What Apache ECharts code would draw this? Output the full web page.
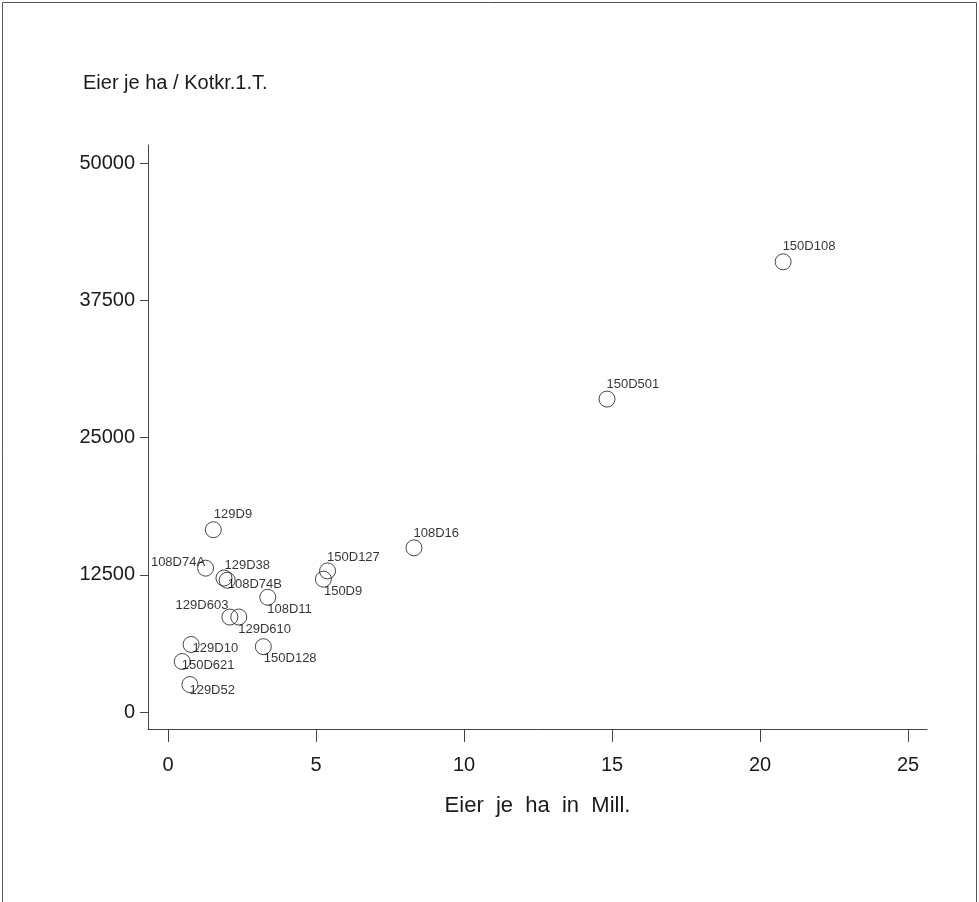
<!DOCTYPE html>
<html>
<head>
<meta charset="utf-8">
<script src="https://cdn.jsdelivr.net/npm/echarts@6/dist/echarts.min.js"></script>
<style>
html,body{margin:0;padding:0;background:#fff;}
#chart{width:979px;height:902px;}
</style>
</head>
<body>
<div id="chart"></div>
<script>
// ---- data ----
const pointNames = ['150D108','150D501','108D16','129D9','108D74A','129D38','108D74B','108D11','129D603','129D610','150D127','150D9','129D10','150D621','129D52','150D128'];
const eggsPerHaMill = [20.78, 14.83, 8.31, 1.53, 1.27, 1.89, 2.00, 3.37, 2.09, 2.39, 5.39, 5.25, 0.78, 0.48, 0.74, 3.22];
const eggsPerHaPerDung = [41000, 28500, 14950, 16600, 13100, 12200, 12000, 10450, 8650, 8650, 12850, 12100, 6150, 4600, 2500, 5950];
const xTicks = [0, 5, 10, 15, 20, 25];
const yTicks = [0, 12500, 25000, 37500, 50000];
const titleText = 'Eier je ha / Kotkr.1.T.';
const xAxisTitle = 'Eier  je  ha  in  Mill.';

// ---- label placement (style only): align, dx, dy from marker centre ----
const labelPlacement = {
  '150D108': ['left', 0, -15],
  '150D501': ['left', 0, -14],
  '108D16':  ['left', 0, -14],
  '129D9':   ['left', 1, -15],
  '108D74A': ['right', 0, -5],
  '129D38':  ['left', 1, -12],
  '108D74B': ['left', 1, 5],
  '108D11':  ['left', 0, 13],
  '129D603': ['right', -1, -11],
  '129D610': ['left', 0, 13],
  '150D127': ['left', 0, -13],
  '150D9':   ['left', 1, 13],
  '129D10':  ['left', 2, 4],
  '150D621': ['left', 0, 4],
  '129D52':  ['left', 0, 6],
  '150D128': ['left', 1, 12]
};

const ink = '#1a1a1a';
const font = '"Liberation Sans", Arial, Helvetica, sans-serif';
const markerSize = 16;

const seriesData = pointNames.map((n, i) => {
  const p = labelPlacement[n];
  return {
    name: n,
    value: [eggsPerHaMill[i], eggsPerHaPerDung[i]],
    label: { align: p[0], position: [markerSize / 2 + p[1], markerSize / 2 + p[2]] }
  };
});

const chart = echarts.init(document.getElementById('chart'), null, {renderer: 'canvas'});
chart.setOption({
  backgroundColor: '#fff',
  animation: false,
  title: {
    text: titleText,
    left: 78, top: 68,
    textStyle: { fontFamily: font, fontSize: 20, fontWeight: 'normal', color: ink }
  },
  graphic: [{
    type: 'rect', silent: true,
    shape: { x: 2.5, y: 2.5, width: 974, height: 910 },
    style: { fill: 'none', stroke: '#555', lineWidth: 1 }
  }],
  grid: { left: 148, right: 52, top: 145, bottom: 173 },
  xAxis: {
    type: 'value', min: -0.676, max: 25.64,
    axisLine: { show: true, onZero: false, lineStyle: { color: '#444', width: 1 } },
    axisTick: { show: true, customValues: xTicks, length: 13, lineStyle: { color: '#444' } },
    axisLabel: { show: true, customValues: xTicks, margin: 26, fontFamily: font, fontSize: 20, color: ink },
    splitLine: { show: false },
    name: xAxisTitle, nameLocation: 'middle', nameGap: 66,
    nameTextStyle: { fontFamily: font, fontSize: 22, color: ink }
  },
  yAxis: {
    type: 'value', min: -1548, max: 51639,
    axisLine: { show: true, onZero: false, lineStyle: { color: '#444', width: 1 } },
    axisTick: { show: true, customValues: yTicks, length: 8, lineStyle: { color: '#444' } },
    axisLabel: { show: true, customValues: yTicks, margin: 13, fontFamily: font, fontSize: 20, color: ink,
                 formatter: v => String(v) },
    splitLine: { show: false }
  },
  series: [{
    type: 'scatter',
    symbol: 'circle', symbolSize: markerSize,
    itemStyle: { color: 'rgba(255,255,255,0)', borderColor: ink, borderWidth: 1 },
    label: {
      show: true, verticalAlign: 'middle',
      formatter: p => p.name,
      fontFamily: font, fontSize: 13, color: '#000'
    },
    labelLayout: { hideOverlap: false },
    emphasis: { disabled: true },
    data: seriesData
  }]
});
</script>
</body>
</html>
